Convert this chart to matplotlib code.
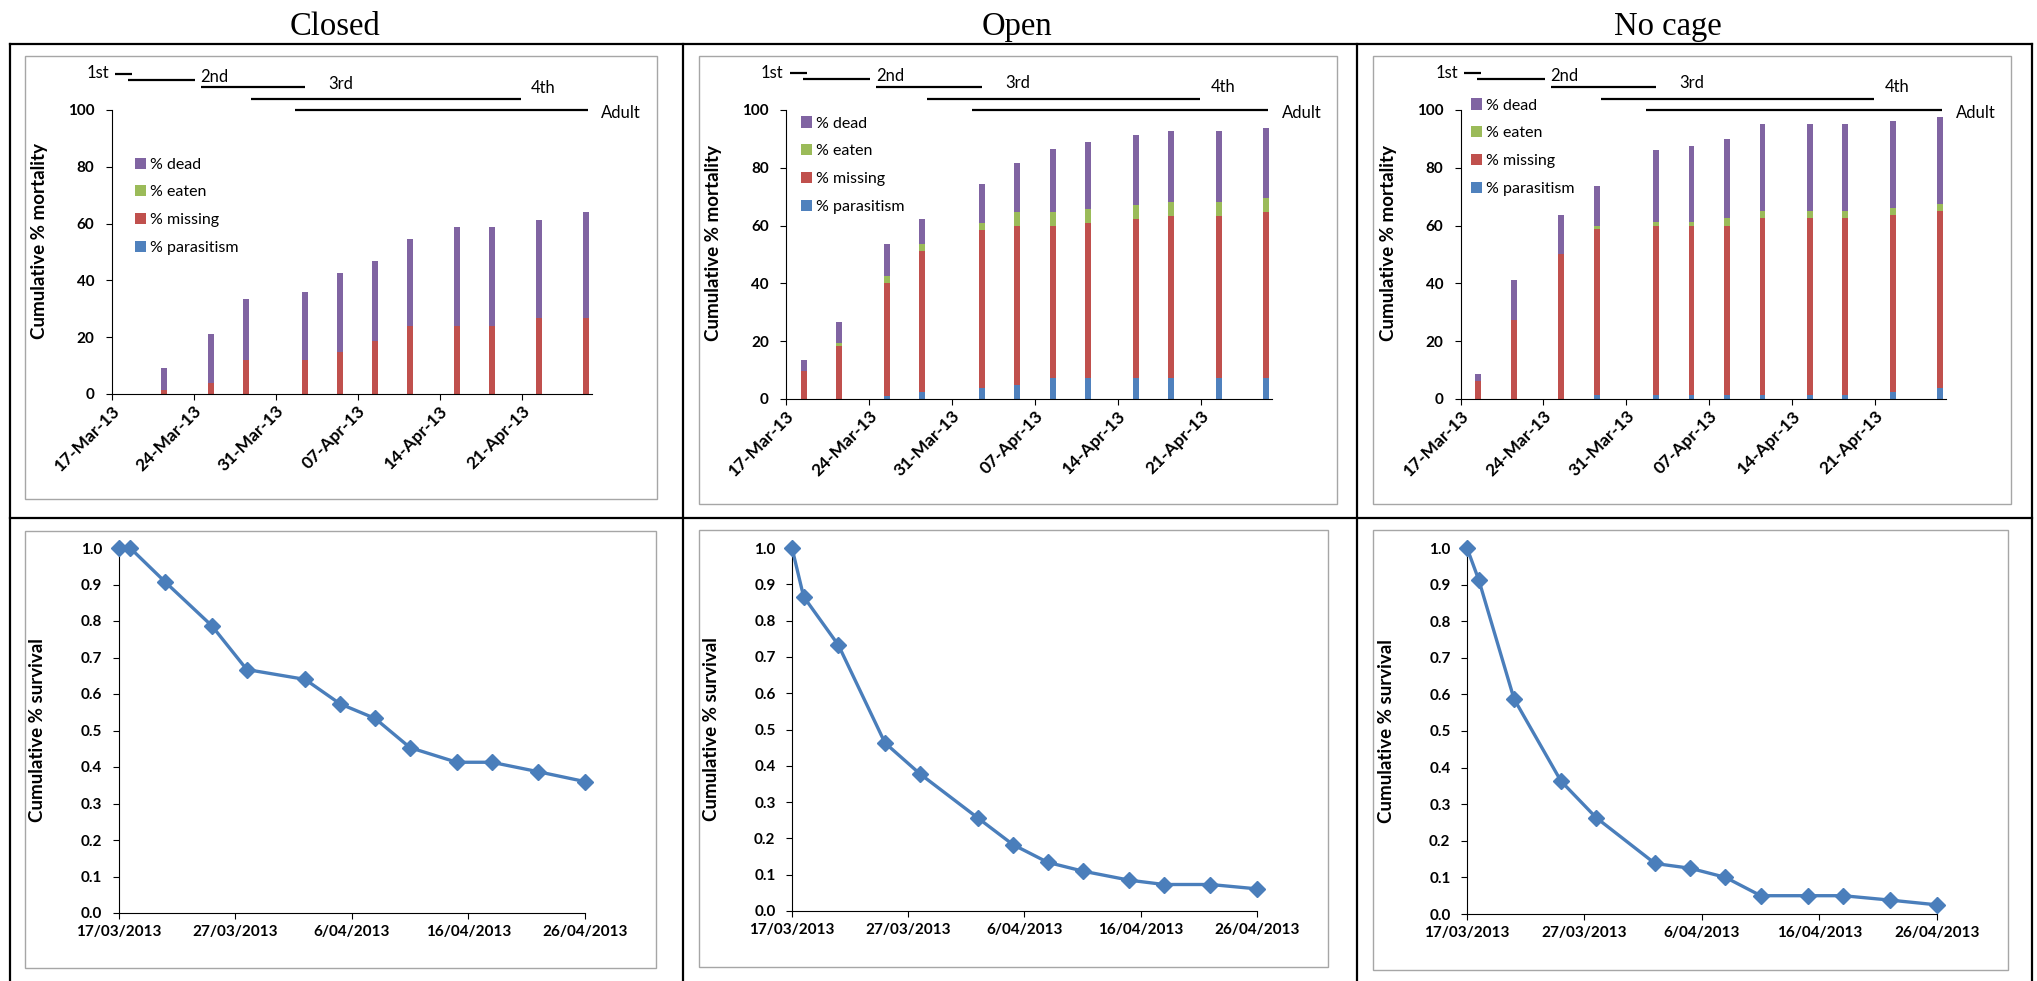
import numpy as np
import pandas as pd
import matplotlib
matplotlib.use('Agg')
import matplotlib.pyplot as plt
import matplotlib.dates as mdates
from matplotlib.patches import Rectangle, Patch
from matplotlib.lines import Line2D
from matplotlib.ticker import FuncFormatter, FixedLocator, MultipleLocator

# ---------------- data ----------------
treatments = ['Closed', 'Open', 'No cage']
start_date = '2013-03-17'
bar_dates = ['2013-03-18', '2013-03-21', '2013-03-25', '2013-03-28', '2013-04-02',
             '2013-04-05', '2013-04-08', '2013-04-11', '2013-04-15', '2013-04-18',
             '2013-04-22', '2013-04-26']
surv_dates = [start_date] + bar_dates

series_names = ['% parasitism', '% missing', '% eaten', '% dead']

closed_parasitism = [0, 0, 0, 0, 0, 0, 0, 0, 0, 0, 0, 0]
closed_missing = [0, 1.3, 4.0, 12.0, 12.0, 14.7, 18.7, 24.0, 24.0, 24.0, 26.7, 26.7]
closed_eaten = [0, 0, 0, 0, 0, 0, 0, 0, 0, 0, 0, 0]
closed_dead = [0, 8.0, 17.3, 21.3, 24.0, 28.0, 28.0, 30.7, 34.7, 34.7, 34.6, 37.3]

open_parasitism = [0, 0, 1.2, 2.4, 3.7, 4.9, 7.3, 7.3, 7.3, 7.3, 7.3, 7.3]
open_missing = [9.8, 18.3, 39.0, 48.8, 54.8, 54.9, 52.5, 53.7, 54.9, 56.1, 56.1, 57.3]
open_eaten = [0, 1.2, 2.5, 2.5, 2.5, 4.8, 4.8, 4.9, 4.9, 4.9, 4.9, 4.9]
open_dead = [3.6, 7.3, 11.0, 8.5, 13.4, 17.1, 22.0, 23.1, 24.4, 24.4, 24.4, 24.4]

nocage_parasitism = [0, 0, 0, 1.25, 1.25, 1.25, 1.25, 1.25, 1.25, 1.25, 2.5, 3.75]
nocage_missing = [6.25, 27.5, 50.0, 57.5, 58.75, 58.75, 58.75, 61.25, 61.25, 61.25, 61.25, 61.25]
nocage_eaten = [0, 0, 0, 1.25, 1.25, 1.25, 2.5, 2.5, 2.5, 2.5, 2.5, 2.5]
nocage_dead = [2.5, 13.75, 13.75, 13.75, 25.0, 26.25, 27.5, 30.0, 30.0, 30.0, 30.0, 30.0]

closed_survival = [1.0, 1.0, 0.907, 0.787, 0.667, 0.64, 0.573, 0.533, 0.453, 0.413, 0.413, 0.387, 0.36]
open_survival = [1.0, 0.866, 0.732, 0.463, 0.378, 0.256, 0.183, 0.134, 0.110, 0.085, 0.073, 0.073, 0.061]
nocage_survival = [1.0, 0.913, 0.588, 0.363, 0.263, 0.138, 0.125, 0.100, 0.050, 0.050, 0.050, 0.038, 0.025]

# instar stage periods (days after start)
stage_labels = ['1st', '2nd', '3rd', '4th', 'Adult']
stage_start_day = [0.3, 1.4, 7.6, 11.9, 15.7]
stage_end_day = [1.75, 7.1, 16.5, 34.9, 40.7]

# ---------------- style / layout ----------------
plt.rcParams['font.family'] = ['Lato', 'DejaVu Sans']
series_colors = ['#4F81BD', '#C0504D', '#9BBB59', '#8064A2']
W, H = 2037, 981
fig = plt.figure(figsize=(W / 100, H / 100), dpi=100)


def fr(left, right, top, bottom):
    return [left / W, 1 - bottom / H, (right - left) / W, (bottom - top) / H]


# table grid
grid_kw = dict(transform=fig.transFigure, color='black', lw=1.6)
for y in [44, 518]:
    fig.add_artist(Line2D([10 / W, 2032 / W], [1 - y / H, 1 - y / H], **grid_kw))
for x in [10, 683, 1357, 2032]:
    fig.add_artist(Line2D([x / W, x / W], [1 - 44 / H, 0], **grid_kw))

# titles
title_x = [335, 1017, 1668]
for name, tx in zip(treatments, title_x):
    fig.text(tx / W, 1 - 35 / H, name, ha='center', va='baseline',
             family='Liberation Serif', fontsize=23.5)

# gray chart-area boxes
boxes = [(25, 657, 56, 499), (699, 1337, 56, 504), (1373, 2011, 56, 504),
         (25, 656, 531, 968), (699, 1328, 530, 967), (1373, 2008, 530, 970)]
for l, r, t, b in boxes:
    fig.add_artist(Rectangle((l / W, 1 - b / H), (r - l) / W, (b - t) / H,
                             transform=fig.transFigure, fill=False,
                             edgecolor='#A6A6A6', lw=1.0))

top_pos = [(111.5, 592, 110, 394), (786, 1272, 110, 399), (1460.6, 1946, 110, 399)]
bot_pos = [(118.5, 585, 548, 913), (792, 1257, 548, 911), (1467, 1937, 548, 914)]
legend_pos = [(135, 167), (801, 126), (1470.5, 108)]

stack_data = [
    [closed_parasitism, closed_missing, closed_eaten, closed_dead],
    [open_parasitism, open_missing, open_eaten, open_dead],
    [nocage_parasitism, nocage_missing, nocage_eaten, nocage_dead],
]
surv_data = [closed_survival, open_survival, nocage_survival]

t0 = pd.Timestamp(start_date)
bar_x = mdates.date2num(pd.to_datetime(bar_dates)) + 0.5
surv_x = mdates.date2num(pd.to_datetime(surv_dates))
x0 = mdates.date2num(t0)

TICK_FS = 11

# stage line layout: (line y, text x offset from anchor, text y, anchor end, ha)
stage_layout = [(112.7, -0.5, 112.9, 'start', 'right'),
                (110.6, 0.5, 111.6, 'end', 'left'),
                (108.0, 2.0, 109.3, 'end', 'left'),
                (103.9, 0.9, 107.9, 'end', 'left'),
                (100.0, 1.1, 99.0, 'end', 'left')]

for i in range(3):
    # ---------- top: stacked bars ----------
    ax = fig.add_axes(fr(*top_pos[i]))
    bottom = np.zeros(len(bar_dates))
    handles = []
    for name, vals, col in zip(series_names, stack_data[i], series_colors):
        vals = np.array(vals, dtype=float)
        ax.bar(bar_x, vals, width=0.5, bottom=bottom, color=col, linewidth=0)
        bottom += vals
        handles.append(Patch(facecolor=col, edgecolor='none', label=name))
    ax.set_ylim(0, 100)
    ax.set_xlim(x0, x0 + 41)
    ax.yaxis.set_major_locator(MultipleLocator(20))
    weekly = mdates.date2num(pd.date_range(t0, periods=6, freq='7D'))
    ax.xaxis.set_major_locator(FixedLocator(weekly))
    ax.xaxis.set_major_formatter(mdates.DateFormatter('%d-%b-%y'))
    for s in ['top', 'right']:
        ax.spines[s].set_visible(False)
    for s in ['left', 'bottom']:
        ax.spines[s].set_linewidth(0.8)
    ax.tick_params(axis='y', direction='out', length=4.3, width=0.8, pad=8)
    ax.tick_params(axis='x', direction='out', length=4.3, width=0.8, pad=2)
    for lbl in ax.get_yticklabels():
        lbl.set_fontsize(TICK_FS); lbl.set_fontweight('bold')
    for lbl in ax.get_xticklabels():
        lbl.set_fontsize(12.5); lbl.set_fontweight('bold')
        lbl.set_rotation(45); lbl.set_ha('right'); lbl.set_va('top')
        lbl.set_rotation_mode('anchor')
    ax.set_ylabel('Cumulative % mortality', fontsize=13.5, fontweight='bold')
    ax.yaxis.set_label_coords(-64 / (top_pos[i][1] - top_pos[i][0]), 0.54)
    ax.patch.set_alpha(0)

    # stage lines
    for lab, s0, s1, (ly, dx, ty, anc, ha) in zip(stage_labels, stage_start_day,
                                                  stage_end_day, stage_layout):
        ax.plot([x0 + s0, x0 + s1], [ly, ly], color='black', lw=1.6,
                clip_on=False, solid_capstyle='butt')
        ax_x = x0 + (s0 if anc == 'start' else s1) + dx
        ax.text(ax_x, ty, lab, ha=ha, va='center', fontsize=12, clip_on=False)

    # legend
    lx, ly = legend_pos[i]
    ax.legend(handles[::-1], series_names[::-1], loc='upper left',
              bbox_to_anchor=(lx / W, 1 - (ly - 9.5) / H),
              bbox_transform=fig.transFigure, frameon=False, fontsize=11.5,
              borderpad=0, borderaxespad=0, handlelength=0.7, handleheight=0.7,
              handletextpad=0.25, labelspacing=0.85)

    # ---------- bottom: survival line ----------
    ax2 = fig.add_axes(fr(*bot_pos[i]))
    ax2.plot(surv_x, surv_data[i], color='#4A7EBB', lw=2.4, marker='D',
             markersize=8, markerfacecolor='#4A7EBB', markeredgecolor='#4A7EBB',
             clip_on=False, zorder=3)
    ax2.set_ylim(0, 1.0)
    ax2.set_xlim(x0, x0 + 40)
    ax2.yaxis.set_major_locator(MultipleLocator(0.1))
    ax2.yaxis.set_major_formatter(FuncFormatter(lambda v, p: f'{v:.1f}'))
    tens = mdates.date2num(pd.date_range(t0, periods=5, freq='10D'))
    ax2.xaxis.set_major_locator(FixedLocator(tens))

    def dfmt(v, p):
        d = mdates.num2date(v)
        return f'{d.day}/{d.month:02d}/{d.year}'
    ax2.xaxis.set_major_formatter(FuncFormatter(dfmt))
    for s in ['top', 'right']:
        ax2.spines[s].set_visible(False)
    for s in ['left', 'bottom']:
        ax2.spines[s].set_linewidth(0.8)
    ax2.tick_params(axis='y', direction='out', length=4.3, width=0.8, pad=7.5)
    ax2.tick_params(axis='x', direction='out', length=4.3, width=0.8, pad=4)
    for lbl in ax2.get_yticklabels() + ax2.get_xticklabels():
        lbl.set_fontsize(TICK_FS); lbl.set_fontweight('bold')
    ax2.set_ylabel('Cumulative % survival', fontsize=13.5, fontweight='bold')
    ax2.yaxis.set_label_coords(-72 / (bot_pos[i][1] - bot_pos[i][0]), 0.5)
    ax2.patch.set_alpha(0)

fig.savefig('out.png', dpi=100)
